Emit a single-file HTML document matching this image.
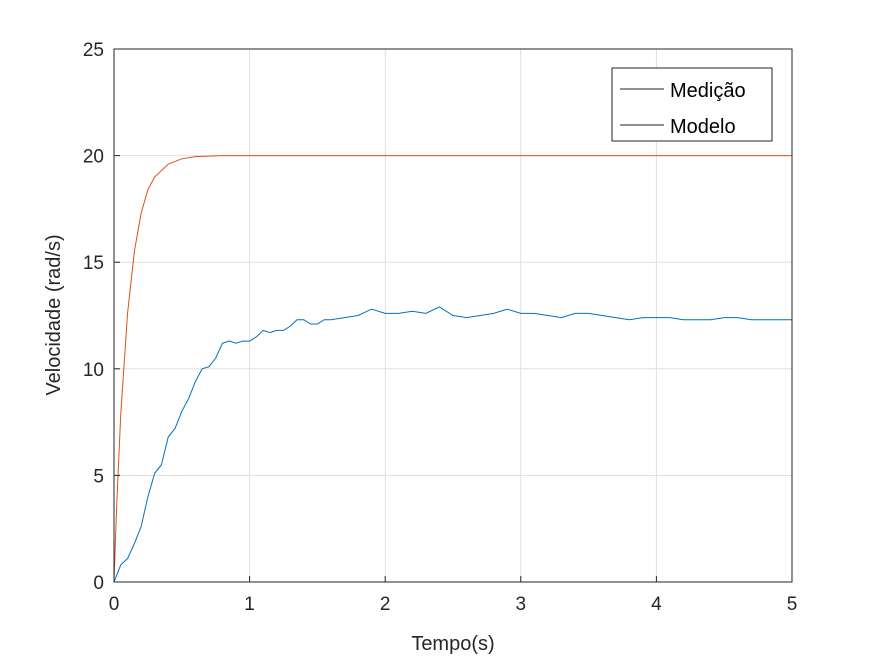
<!DOCTYPE html>
<html><head><meta charset="utf-8"><style>
body{margin:0;background:#fff;}
svg{display:block;font-family:"Liberation Sans",sans-serif;}
</style></head><body>
<svg id="chart" width="875" height="656">
<rect width="875" height="656" fill="#fff"/>
<g id="grid"></g>
<g id="series"></g>
<rect x="114" y="49" width="678" height="533" fill="none" stroke="#262626" stroke-width="1"/>
<g id="ticks"></g>
<text x="453" y="650" text-anchor="middle" font-size="20" fill="#262626">Tempo(s)</text>
<text transform="translate(60,315) rotate(-90)" text-anchor="middle" font-size="20" fill="#262626">Velocidade (rad/s)</text>
<g>
<rect x="612" y="68" width="160" height="73" fill="#fff" stroke="#262626"/>
<line x1="620" y1="89" x2="664" y2="89" stroke="#222"/>
<text x="670" y="97" font-size="20" fill="#000">Medição</text>
<line x1="620" y1="125" x2="664" y2="125" stroke="#222"/>
<text x="670" y="133" font-size="20" fill="#000">Modelo</text>
</g>
</svg>
<script>
const xTicks=[0,1,2,3,4,5];
const yTicks=[0,5,10,15,20,25];
const measT=[0,0.05,0.1,0.15,0.2,0.25,0.3,0.35,0.4,0.45,0.5,0.55,0.6,0.65,0.7,0.75,0.8,0.85,0.9,0.95,1.0,1.05,1.1,1.15,1.2,1.25,1.3,1.35,1.4,1.45,1.5,1.55,1.6,1.7,1.8,1.9,2.0,2.1,2.2,2.3,2.4,2.5,2.6,2.7,2.8,2.9,3.0,3.1,3.2,3.3,3.4,3.5,3.6,3.7,3.8,3.9,4.0,4.1,4.2,4.3,4.4,4.5,4.6,4.7,4.8,4.9,5.0];
const measV=[0,0.8,1.1,1.8,2.6,4.0,5.1,5.5,6.8,7.2,8.0,8.6,9.4,10.0,10.1,10.5,11.2,11.3,11.2,11.3,11.3,11.5,11.8,11.7,11.8,11.8,12.0,12.3,12.3,12.1,12.1,12.3,12.3,12.4,12.5,12.8,12.6,12.6,12.7,12.6,12.9,12.5,12.4,12.5,12.6,12.8,12.6,12.6,12.5,12.4,12.6,12.6,12.5,12.4,12.3,12.4,12.4,12.4,12.3,12.3,12.3,12.4,12.4,12.3,12.3,12.3,12.3];
const modelT=[0,0.02,0.05,0.1,0.15,0.2,0.25,0.3,0.4,0.5,0.6,0.8,1,5];
const modelV=[0,3.6,7.9,12.6,15.5,17.3,18.4,19.0,19.6,19.85,19.95,20,20,20];
const X0=114,X1=792,Y0=582,Y1=49;
const xs=t=>X0+(t-0)/(5-0)*(X1-X0);
const ys=v=>Y0-(v-0)/(25-0)*(Y0-Y1);
const NS='http://www.w3.org/2000/svg';
const grid=document.getElementById('grid'),ticks=document.getElementById('ticks'),ser=document.getElementById('series');
function mk(tag,attrs,parent){const e=document.createElementNS(NS,tag);for(const k in attrs)e.setAttribute(k,attrs[k]);parent.appendChild(e);return e;}
xTicks.forEach(t=>{
 const x=xs(t);
 const g=mk('line',{x1:x,x2:x,y1:Y0,y2:Y1,stroke:'#dfdfdf'},grid);
 
 
 const tk=mk('line',{x1:x,x2:x,y1:Y0,y2:Y0-6,stroke:'#262626'},ticks);
 
 
 const l=mk('text',{x:x,y:610,'text-anchor':'middle','font-size':'19',fill:'#262626'},ticks);
 l.textContent=t;
 
 
});
yTicks.forEach(v=>{
 const y=ys(v);
 const g=mk('line',{x1:X0,x2:X1,y1:y,y2:y,stroke:'#dfdfdf'},grid);
 
 
 const tk=mk('line',{x1:X0,x2:X0+6,y1:y,y2:y,stroke:'#262626'},ticks);
 
 
 const l=mk('text',{x:104,y:y+7,'text-anchor':'end','font-size':'19',fill:'#262626'},ticks);
 l.textContent=v;
 
 
});
const p1=mk('polyline',{points:measT.map((t,i)=>xs(t)+','+ys(measV[i])).join(' '),fill:'none',stroke:'#0072bd','stroke-width':'1'},ser);


const p2=mk('polyline',{points:modelT.map((t,i)=>xs(t)+','+ys(modelV[i])).join(' '),fill:'none',stroke:'#d95319','stroke-width':'1'},ser);


</script>
</body></html>
